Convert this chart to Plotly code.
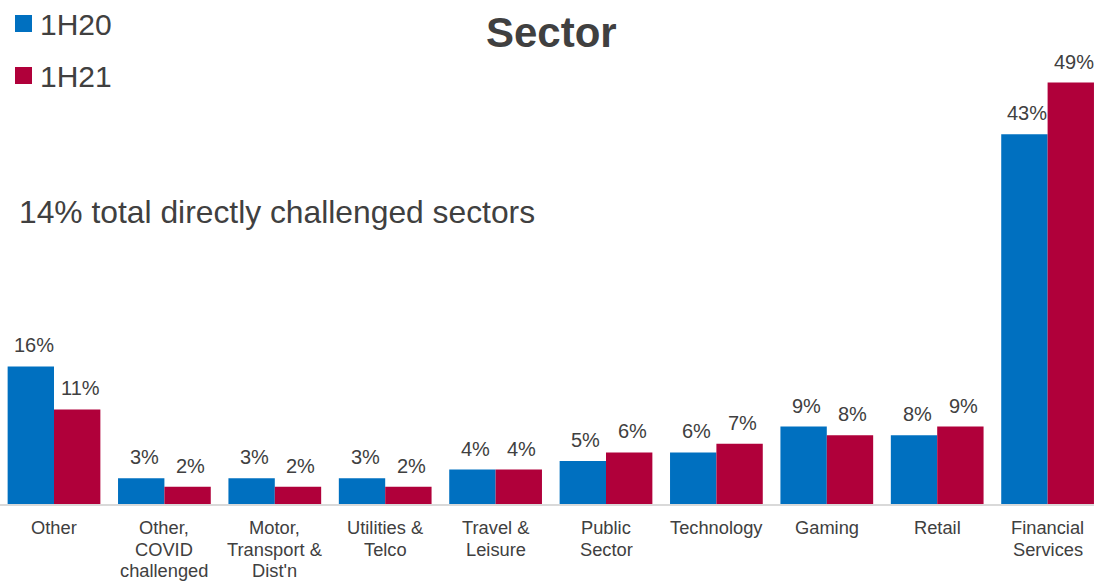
import numpy as np
import plotly.graph_objects as go

# Sector mix, share of total (%)
categories = [
    "Other",
    "Other,\nCOVID\nchallenged",
    "Motor,\nTransport &\nDist'n",
    "Utilities &\nTelco",
    "Travel &\nLeisure",
    "Public\nSector",
    "Technology",
    "Gaming",
    "Retail",
    "Financial\nServices",
]
share_1h20 = [16, 3, 3, 3, 4, 5, 6, 9, 8, 43]
share_1h21 = [11, 2, 2, 2, 4, 6, 7, 8, 9, 49]
series_names = ["1H20", "1H21"]
series_colors = ["#0070C0", "#B0003A"]
note_text = "14% total directly challenged sectors"

FONT = "Liberation Sans, Arial, sans-serif"
TXT = "#404040"

W, H = 1094, 582
PLOT_BOTTOM = 504          # pixel row of the baseline
BARGAP = 0.16

x = np.arange(len(categories))
fig = go.Figure()
for name, vals, col in zip(series_names, [share_1h20, share_1h21], series_colors):
    fig.add_trace(go.Bar(
        x=x, y=vals, name=name, marker=dict(color=col, line=dict(width=0)),
        showlegend=False, hoverinfo="y",
    ))

# value labels above each bar
half = (1 - BARGAP) / 4
annotations = []
for k, vals in enumerate([share_1h20, share_1h21]):
    off = -half if k == 0 else half
    for i, v in enumerate(vals):
        annotations.append(dict(
            x=x[i] + off, y=v, xref="x", yref="y", text=f"{v}%",
            showarrow=False, yanchor="bottom", xanchor="center",
            xshift=3, yshift=8, font=dict(family=FONT, size=20, color=TXT),
        ))

def py(pix):
    # pixel row -> paper y (plot area spans the top 504 px)
    return (PLOT_BOTTOM - pix) / PLOT_BOTTOM

def px(pix):
    return pix / W

# category labels under the axis, one text per line (tight leading)
for i, cat in enumerate(categories):
    for j, line in enumerate(cat.split("\n")):
        annotations.append(dict(
            x=x[i], y=py(527.5 + 21.5 * j), xref="x", yref="paper", text=line,
            showarrow=False, xanchor="center", yanchor="middle", borderpad=0,
            font=dict(family=FONT, size=18.3, color=TXT),
        ))

# legend: coloured squares with labels
shapes = []
for k, (name, col) in enumerate(zip(series_names, series_colors)):
    top = 15 + k * 52
    shapes.append(dict(
        type="rect", xref="paper", yref="paper",
        x0=px(15), x1=px(32), y0=py(top + 17), y1=py(top),
        fillcolor=col, line=dict(width=0),
    ))
    annotations.append(dict(
        x=px(38), y=py(top + 9), xref="paper", yref="paper", text=name,
        showarrow=False, xanchor="left", yanchor="middle",
        font=dict(family=FONT, size=30, color=TXT),
    ))

annotations.append(dict(
    x=px(17), y=py(212), xref="paper", yref="paper", text=note_text,
    showarrow=False, xanchor="left", yanchor="middle",
    font=dict(family=FONT, size=31.8, color=TXT),
))
annotations.append(dict(
    x=px(551), y=py(32), xref="paper", yref="paper", text="<b>Sector</b>",
    showarrow=False, xanchor="center", yanchor="middle",
    font=dict(family=FONT, size=42, color=TXT),
))

# category spacing ~110.4 px, first centre at 54 px
step = 110.4
r0 = -54 / step
r1 = r0 + W / step

fig.update_layout(
    width=W, height=H,
    margin=dict(l=0, r=0, t=0, b=H - PLOT_BOTTOM, pad=0, autoexpand=False),
    paper_bgcolor="white", plot_bgcolor="white",
    barmode="group", bargap=BARGAP, bargroupgap=0,
    font=dict(family=FONT, color=TXT),
    xaxis=dict(
        range=[r0, r1], tickvals=x, showticklabels=False,
        showgrid=False, zeroline=False, showline=True,
        linecolor="#D9D9D9", linewidth=2, ticks="",
        automargin=False, fixedrange=True,
    ),
    yaxis=dict(
        range=[0, PLOT_BOTTOM / 8.6], visible=False, showgrid=False,
        zeroline=False, fixedrange=True, automargin=False,
    ),
    annotations=annotations,
    shapes=shapes,
)

fig.write_html("out.html", config={"displayModeBar": False})
